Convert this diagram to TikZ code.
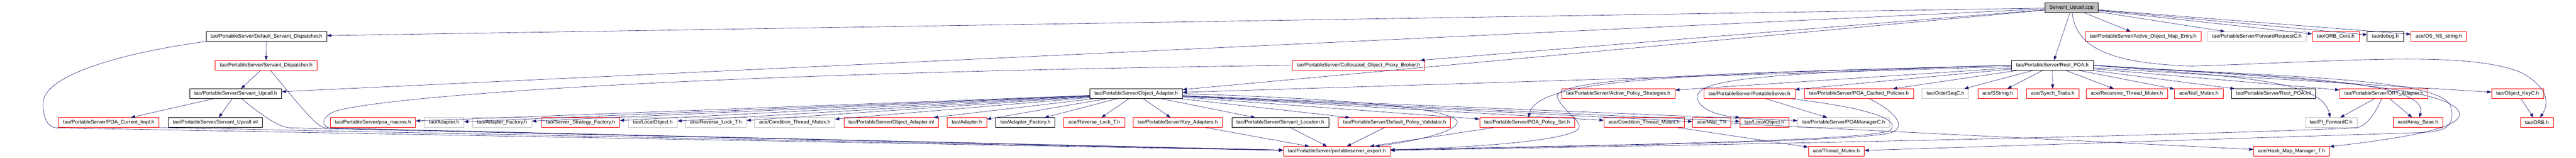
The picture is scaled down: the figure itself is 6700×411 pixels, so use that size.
\documentclass[tikz,border=0pt]{standalone}
\usepackage{fontspec}
\setmainfont{Liberation Sans}
\usetikzlibrary{arrows.meta}
\definecolor{edgeblue}{HTML}{191970}
\definecolor{boxgray}{HTML}{BFBFBF}
\begin{document}
\begin{tikzpicture}[x=1bp,y=-1bp,
    hdr/.style={draw=black,line width=1bp,rectangle,minimum height=25bp,inner xsep=12bp,inner ysep=0bp,font=\fontsize{13.3}{15}\selectfont},
    trunc/.style={hdr,draw=red},
    undoc/.style={hdr,draw=boxgray},
    src/.style={hdr,fill=boxgray},
    inc/.style={edgeblue,line width=0.8bp,-{Triangle[length=11bp,width=8bp]}}]
    \fill[white] (0,0) rectangle (6700,411);
    \useasboundingbox (0,0) rectangle (6700,411);
    % row 0
    \node[src] (upcallcpp) at (5388,20) {Servant\_Upcall.cpp};
    % row 1
    \node[hdr] (defdisp) at (693,95) {tao/PortableServer/Default\_Servant\_Dispatcher.h};
    \node[trunc] (mapentry) at (5574,95) {tao/PortableServer/Active\_Object\_Map\_Entry.h};
    \node[undoc] (fwdreq) at (5870,95) {tao/PortableServer/ForwardRequestC.h};
    \node[trunc] (orbcore) at (6075,95) {tao/ORB\_Core.h};
    \node[hdr] (debug) at (6204,95) {tao/debug.h};
    \node[trunc] (osstring) at (6343,95) {ace/OS\_NS\_string.h};
    % row 2
    \node[trunc] (servdisp) at (692,170) {tao/PortableServer/Servant\_Dispatcher.h};
    \node[trunc] (collocated) at (3533,170) {tao/PortableServer/Collocated\_Object\_Proxy\_Broker.h};
    \node[hdr] (rootpoa) at (5338,170) {tao/PortableServer/Root\_POA.h};
    % row 3
    \node[hdr] (upcallh) at (613,244) {tao/PortableServer/Servant\_Upcall.h};
    \node[hdr] (objadapt) at (2955,244) {tao/PortableServer/Object\_Adapter.h};
    \node[trunc] (policystrat) at (4209,244) {tao/PortableServer/Active\_Policy\_Strategies.h};
    \node[trunc] (portsrv) at (4550,244) {tao/PortableServer/PortableServer.h};
    \node[trunc] (cachedpol) at (4835,244) {tao/PortableServer/POA\_Cached\_Policies.h};
    \node[undoc] (octetseq) at (5060,244) {tao/OctetSeqC.h};
    \node[trunc] (sstring) at (5196,244) {ace/SString.h};
    \node[trunc] (synch) at (5339,244) {ace/Synch\_Traits.h};
    \node[trunc] (recmutex) at (5532,244) {ace/Recursive\_Thread\_Mutex.h};
    \node[trunc] (nullmutex) at (5719,244) {ace/Null\_Mutex.h};
    \node[hdr] (rootinl) at (5913,244) {tao/PortableServer/Root\_POA.inl};
    \node[trunc] (ortadapt) at (6200,244) {tao/PortableServer/ORT\_Adapter.h};
    \node[trunc] (objkey) at (6548,244) {tao/Object\_KeyC.h};
    % row 4
    \node[trunc] (curimpl) at (283,319) {tao/PortableServer/POA\_Current\_Impl.h};
    \node[hdr] (upcallinl) at (560,319) {tao/PortableServer/Servant\_Upcall.inl};
    \node[trunc] (macros) at (970,319) {tao/PortableServer/poa\_macros.h};
    \node[undoc] (adapterg) at (1155,319) {tao/Adapter.h};
    \node[undoc] (adfactg) at (1306,319) {tao/Adapter\_Factory.h};
    \node[trunc] (stratfact) at (1510,319) {tao/Server\_Strategy\_Factory.h};
    \node[undoc] (localg) at (1698,319) {tao/LocalObject.h};
    \node[undoc] (revlockg) at (1862,319) {ace/Reverse\_Lock\_T.h};
    \node[undoc] (condg) at (2067,319) {ace/Condition\_Thread\_Mutex.h};
    \node[trunc] (oainl) at (2318,319) {tao/PortableServer/Object\_Adapter.inl};
    \node[trunc] (adapterr) at (2515,319) {tao/Adapter.h};
    \node[hdr] (adfactb) at (2667,319) {tao/Adapter\_Factory.h};
    \node[trunc] (revlockr) at (2846,319) {ace/Reverse\_Lock\_T.h};
    \node[trunc] (keyadapt) at (3063,319) {tao/PortableServer/Key\_Adapters.h};
    \node[hdr] (location) at (3330,319) {tao/PortableServer/Servant\_Location.h};
    \node[trunc] (validator) at (3627,319) {tao/PortableServer/Default\_Policy\_Validator.h};
    \node[trunc] (policyset) at (3972,319) {tao/PortableServer/POA\_Policy\_Set.h};
    \node[trunc] (condr) at (4276,319) {ace/Condition\_Thread\_Mutex.h};
    \node[trunc] (mapt) at (4452,319) {ace/Map\_T.h};
    \node[trunc] (localr) at (4589,319) {tao/LocalObject.h};
    \node[undoc] (poamgr) at (4795,319) {tao/PortableServer/POAManagerC.h};
    \node[undoc] (piforward) at (6063,319) {tao/PI\_ForwardC.h};
    \node[trunc] (arraybase) at (6289,319) {ace/Array\_Base.h};
    \node[trunc] (orbh) at (6598,319) {tao/ORB.h};
    % row 5
    \node[trunc] (export) at (3477,394) {tao/PortableServer/portableserver\_export.h};
    \node[trunc] (thrmutex) at (4776,394) {ace/Thread\_Mutex.h};
    \node[trunc] (hashmap) at (5960,394) {ace/Hash\_Map\_Manager\_T.h};
    % straight includes
    \foreach \a/\b in {upcallcpp/defdisp,upcallcpp/upcallh,upcallcpp/collocated,upcallcpp/rootpoa,
        upcallcpp/mapentry,upcallcpp/fwdreq,upcallcpp/orbcore,upcallcpp/debug,upcallcpp/osstring,
        upcallcpp/objadapt,defdisp/servdisp,servdisp/upcallh,upcallh/curimpl,upcallh/upcallinl,
        objadapt/macros,objadapt/adapterg,objadapt/adfactg,objadapt/stratfact,
        objadapt/localg,objadapt/revlockg,objadapt/condg,objadapt/oainl,objadapt/adapterr,
        objadapt/adfactb,objadapt/revlockr,objadapt/keyadapt,objadapt/location,objadapt/validator,
        objadapt/policyset,objadapt/condr,objadapt/mapt,objadapt/localr,objadapt/poamgr,
        keyadapt/export,location/export,validator/export,policyset/export,condr/thrmutex,
        mapt/hashmap,rootpoa/objadapt,rootpoa/policystrat,rootpoa/portsrv,rootpoa/cachedpol,
        rootpoa/octetseq,rootpoa/sstring,rootpoa/synch,rootpoa/recmutex,rootpoa/nullmutex,
        rootpoa/rootinl,rootpoa/ortadapt,rootpoa/objkey,portsrv/poamgr,ortadapt/piforward,
        ortadapt/arraybase,objkey/orbh}
    {
        \draw[inc] (\a) -- (\b);
    }
    % routed includes
    \draw[inc] (curimpl.south east) -- (export);
    \draw[inc] (upcallcpp) .. controls (5400,130) and (5500,165) .. (5700,172)
        .. controls (6100,160) and (6420,130) .. (6560,190) .. controls (6630,230) and (6630,270) .. (orbh);
    \draw[inc] (defdisp.south west) .. controls (300,140) and (110,200) .. (112,270)
        .. controls (112,300) and (120,333) .. (150,333) -- (export);
    \draw[inc] (servdisp) .. controls (760,250) and (820,330) .. (845,333) -- (export);
    \draw[inc] (upcallh) .. controls (680,300) and (730,335) .. (760,333) -- (export);
    \draw[inc] (collocated.west) .. controls (1800,190) and (1000,250) .. (870,290)
        .. controls (835,305) and (835,330) .. (860,334) -- (export);
    \draw[inc] (objadapt.east) .. controls (3600,260) and (3790,290) .. (3790,318)
        .. controls (3790,340) and (3700,365) .. (export);
    \draw[inc] (rootpoa.west) .. controls (4500,190) and (4060,200) .. (4050,250)
        .. controls (4060,290) and (4130,320) .. (4100,340) .. controls (4050,370) and (3800,385) .. (export);
    \draw[inc] (rootpoa.west) .. controls (4400,195) and (4000,200) .. (policyset);
    \draw[inc] (rootpoa.west) .. controls (4600,190) and (4420,205) .. (4415,250)
        .. controls (4412,280) and (4460,300) .. (localr.north west);
    \draw[inc] (rootpoa.east) .. controls (5900,200) and (6360,200) .. (6375,280)
        .. controls (6385,330) and (6360,342) .. (6300,345) -- (thrmutex);
    \draw[inc] (rootpoa.east) .. controls (5900,200) and (6390,220) .. (6397,297)
        .. controls (6400,340) and (6200,365) .. (hashmap);
    \draw[inc] (rootpoa.east) .. controls (5800,200) and (6040,205) .. (piforward);
    \draw[inc] (rootpoa.east) .. controls (5900,200) and (6320,205) .. (arraybase);
    \draw[inc] (portsrv) .. controls (4850,280) and (4950,310) .. (4915,340)
        .. controls (4850,370) and (4000,380) .. (export);
    \draw[inc] (cachedpol) .. controls (4930,290) and (4960,330) .. (4920,345)
        .. controls (4850,370) and (4000,382) .. (export);
    \draw[inc] (ortadapt) .. controls (6180,290) and (6160,325) .. (6130,333)
        .. controls (5500,360) and (4000,385) .. (export);
\end{tikzpicture}
\end{document}
